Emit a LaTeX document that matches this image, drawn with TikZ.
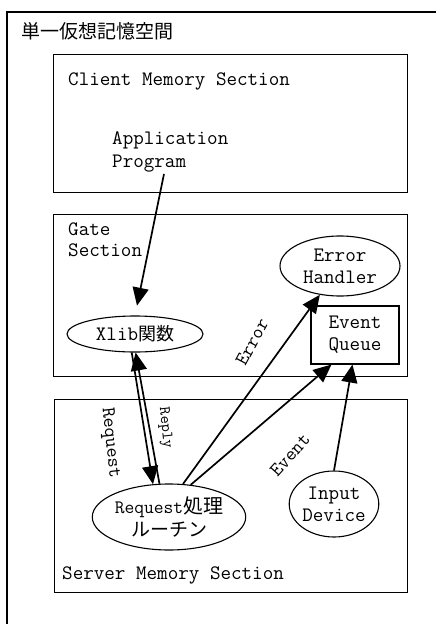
\documentclass[tikz,border=0pt]{standalone}
\usepackage{fontspec}
\newfontfamily\jp{Noto Sans CJK JP}
\usetikzlibrary{shapes.geometric,arrows.meta,calc}
\begin{document}
\begin{tikzpicture}[x=1pt,y=-1pt,
  frame/.style={line width=1.2pt},
  sect/.style={draw,line width=1.1pt},
  lbl/.style={font=\ttfamily\fontsize{20.5}{23}\selectfont,align=left,inner sep=0pt},
  oval/.style={draw,ellipse,line width=1.1pt,inner sep=0pt,align=center,font=\ttfamily\fontsize{20.5}{22}\selectfont},
  conn/.style={line width=1.7pt,-{Triangle[length=18pt,width=16pt]}},
  alabel/.style={font=\ttfamily\fontsize{19.5}{21}\selectfont,inner sep=0pt}]
\useasboundingbox (0,0) rectangle (436,624);
\fill[white] (0,0) rectangle (436,624);
% outer frame
\coordinate (fl) at (7,624);
\coordinate (ftl) at (7,12);
\coordinate (ftr) at (436,12);
\draw[frame] (fl) -- (ftl) -- (ftr);
\node[anchor=west,inner sep=0pt,font=\jp\fontsize{19}{21}\selectfont] (title) at (21,31) {単一仮想記憶空間};
% sections
\node[sect,minimum width=354pt,minimum height=138pt,anchor=north west] (client) at (53,54) {};
\node[sect,minimum width=354pt,minimum height=162pt,anchor=north west] (gate) at (53,214) {};
\node[sect,minimum width=353pt,minimum height=193pt,anchor=north west] (server) at (54,399) {};
\node[lbl,anchor=west] (cms) at (68,81) {Client Memory Section};
\node[lbl,anchor=north west,font=\ttfamily\fontsize{20.5}{23}\selectfont] (app) at (112,131) {Application\\Program};
\node[lbl,anchor=north west,font=\ttfamily\fontsize{20.5}{21}\selectfont] (gs) at (68,223) {Gate\\Section};
\node[lbl,anchor=west] (sms) at (62,575) {Server Memory Section};
% nodes
\node[oval,minimum width=120pt,minimum height=60pt] (eh) at (340,266) {Error\\Handler};
\node[draw,line width=1.1pt,minimum width=88pt,minimum height=58pt,align=center,inner sep=0pt,font=\ttfamily\fontsize{20.5}{22}\selectfont] (eq) at (355,335) {Event\\Queue};
\node[oval,minimum width=136pt,minimum height=36pt] (xlib) at (135,334) {Xlib{\jp\fontsize{18}{20}\selectfont 関数}};
\node[oval,minimum width=148pt,minimum height=66pt,font=\ttfamily\fontsize{19}{23}\selectfont] (req) at (169,517) {Request{\jp\fontsize{20}{23}\selectfont 処理}\\{\jp\fontsize{19}{23}\selectfont ルーチン}};
\node[oval,minimum width=89pt,minimum height=66pt] (idev) at (334,504) {Input\\Device};
% connectors
\draw[conn,shorten >=10pt] ($(app.south west)+(52,2)$) -- (xlib.north);
\draw[conn] (xlib.260) -- (req.116);
\draw[conn] (req.106) -- (xlib.272);
\draw[conn] (req.67) -- (eh.235);
\draw[conn] (req.56) -- ([xshift=21pt]eq.south west);
\draw[conn] (idev.north) -- ([xshift=42pt]eq.south west);
% labels
\node[alabel,rotate=62] (lerr) at (252,342) {Error};
\node[alabel,rotate=48] (levt) at (290,455) {Event};
\node[alabel,rotate=-84] (lreq) at (110,443) {Request};
\node[alabel,rotate=-84,font=\ttfamily\fontsize{16}{18}\selectfont] (lrep) at (165,428) {Reply};
\end{tikzpicture}
\end{document}
